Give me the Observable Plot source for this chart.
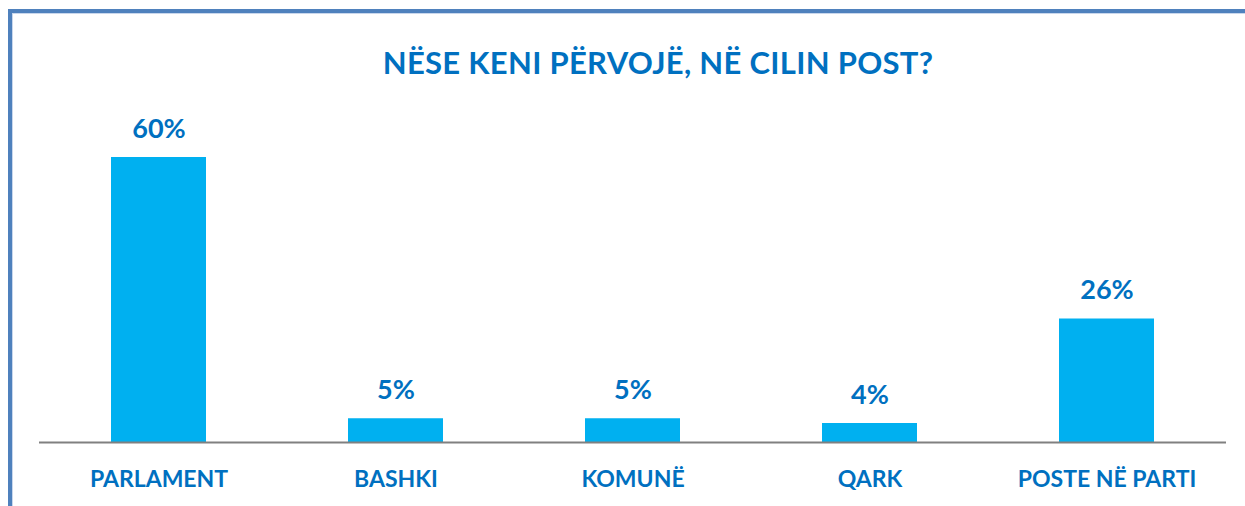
<!DOCTYPE html>
<html>
<head>
<meta charset="utf-8">
<script src="https://cdn.jsdelivr.net/npm/d3@7"></script>
<script src="https://cdn.jsdelivr.net/npm/@observablehq/plot@0.6"></script>
<style>
  html, body { margin: 0; padding: 0; background: #fff; }
  #wrap { position: relative; width: 1245px; height: 506px; overflow: hidden; font-family: Lato, "Open Sans", sans-serif; }
  #frame { position: absolute; left: 8px; top: 9px; width: 1300px; height: 600px;
           border-left: 4px solid #4F81BD; border-top: 4px solid #4F81BD; box-shadow: inset 1px 1px 0 #C9D7EC; }
  #title { position: relative; height: 100px; }
  #title span { position: absolute; left: 258px; width: 800px; top: 47px; text-align: center;
                font: bold 31px Lato, sans-serif; line-height: 1; color: #0070C0; letter-spacing: 0.3px; }
  #chart { position: relative; }
</style>
</head>
<body>
<div id="wrap">
  <div id="frame"></div>
  <div id="title"><span>NËSE KENI PËRVOJË, NË CILIN POST?</span></div>
  <div id="chart"></div>
</div>
<script>
const categories = ["PARLAMENT", "BASHKI", "KOMUNË", "QARK", "POSTE NË PARTI"];
const values = [60, 5, 5, 4, 26];
const valueLabels = ["60%", "5%", "5%", "4%", "26%"];

const data = categories.map((c, i) => ({category: c, value: values[i], label: valueLabels[i]}));

const textColor = "#0070C0";
const barColor = "#00B0F0";

const chart = Plot.plot({
  width: 1245,
  height: 406,
  marginLeft: 39,
  marginRight: 19,
  marginTop: 57,
  marginBottom: 64,
  style: {background: "transparent", overflow: "visible"},
  x: {domain: categories, paddingInner: 0.6, paddingOuter: 0.3, axis: null},
  y: {domain: [0, 60], axis: null},
  marks: [
    Plot.barY(data, {x: "category", y: "value", fill: barColor}),
    Plot.ruleY([0], {stroke: "#808080", strokeWidth: 2}),
    Plot.text(data, {x: "category", y: "value", text: "label", lineAnchor: "top", dy: -39,
                     fill: textColor, fontSize: 27, fontWeight: "bold", fontFamily: "Lato"}),
    Plot.text(data, {x: "category", y: () => 0, text: "category", lineAnchor: "top", dy: 28,
                     fill: textColor, fontSize: 23, fontWeight: "bold", fontFamily: "Lato"})
  ]
});
document.getElementById("chart").appendChild(chart);
</script>
</body>
</html>
